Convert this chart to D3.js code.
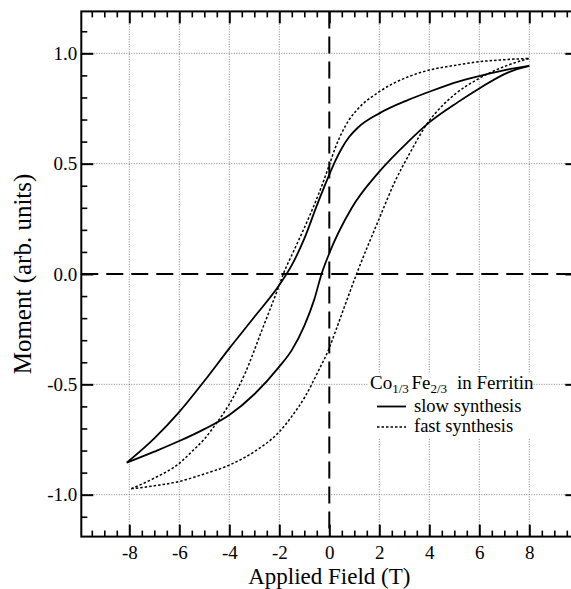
<!DOCTYPE html>
<meta charset="utf-8">
<head>
    <meta charset="UTF-8">
    <title>Co1/3 Fe2/3 in Ferritin - hysteresis</title>
    <style>
      body { margin: 0; background: #fff; }
      svg text { font-family: "Liberation Serif", "DejaVu Serif", serif; fill: #000; }
    </style>
</head>
<body>
<script src="https://d3js.org/d3.v7.min.js"></script>
<div id="chart"></div>
<script>

    // slow synthesis loop (solid): branch coming down from +8 T
    const slowUpField  = [-8.1, -7, -6, -5, -4, -3, -2, -1.5, -1, -0.5, 0, 0.25, 0.5, 0.8, 1.16, 2, 3.16, 4, 5.16, 6, 7.16, 8]
    const slowUpMoment = [-0.855, -0.745, -0.625, -0.485, -0.337, -0.195, -0.05, 0.04, 0.16, 0.31, 0.45, 0.515, 0.57, 0.622, 0.665, 0.728, 0.789, 0.826, 0.872, 0.897, 0.927, 0.943]
    // slow synthesis loop (solid): branch going up from -8 T
    const slowDownField  = [-8.1, -7, -6, -5, -4, -3, -2, -1.5, -1, -0.6, -0.31, 0, 0.89, 2, 3.16, 4, 5.16, 6, 7.16, 8]
    const slowDownMoment = [-0.855, -0.805, -0.757, -0.703, -0.639, -0.545, -0.42, -0.345, -0.235, -0.115, 0, 0.094, 0.298, 0.464, 0.6, 0.687, 0.78, 0.841, 0.914, 0.943]

    // fast synthesis loop (dotted)
    const fastUpField  = [-7.92, -7, -6, -5.5, -5, -4.54, -4, -3.35, -2.68, -2, -1.84, -1.4, -0.84, -0.4, 0, 0.25, 0.5, 0.8, 1.16, 2, 3.16, 4, 5, 6, 7, 8]
    const fastUpMoment = [-0.973, -0.925, -0.858, -0.805, -0.748, -0.68, -0.59, -0.445, -0.25, -0.05, 0, 0.11, 0.25, 0.37, 0.494, 0.575, 0.64, 0.70, 0.75, 0.826, 0.894, 0.924, 0.945, 0.962, 0.971, 0.977]
    const fastDownField  = [-7.92, -7, -6, -5, -4, -3, -2, -1.5, -0.97, -0.44, 0, 0.23, 0.6, 1.09, 2, 2.63, 3.16, 4, 4.5, 5.03, 6, 7.16, 8]
    const fastDownMoment = [-0.973, -0.96, -0.94, -0.906, -0.866, -0.805, -0.715, -0.645, -0.556, -0.44, -0.335, -0.265, -0.15, 0, 0.252, 0.42, 0.535, 0.695, 0.76, 0.815, 0.887, 0.947, 0.977]

    // tick labels
    const xTicks = [-8, -6, -4, -2, 0, 2, 4, 6, 8]
    const yTicks = [-1.0, -0.5, 0.0, 0.5, 1.0]
    const xMinor = d3.range(-9.5, 9.51, 0.5).filter(v => v % 2 !== 0)
    const yMinor = d3.range(-1.1, 1.101, 0.1).map(v => Math.round(v * 10) / 10).filter(v => !yTicks.includes(v))

    const W = 571, H = 589
    const FONT = '"Liberation Serif", "DejaVu Serif", serif'

    const svg = d3.select("#chart")
      .append("svg")
        .attr("width", W)
        .attr("height", H)
        .attr("font-family", FONT)

    svg.append("rect").attr("width", W).attr("height", H).attr("fill", "#fff")

    // scales
    const x = d3.scaleLinear().domain([-9.92, 9.92]).range([81.3, 577.3])
    const y = d3.scaleLinear().domain([-1.19, 1.19]).range([536.6, 11.4])
    const [x0, x1] = x.range(), [y0, y1] = y.range()

    // grid (dotted)
    const grid = svg.append("g")
    grid.selectAll(".gx")
      .data(xTicks.filter(d => d !== 0))
      .join("line")
        .attr("x1", d => x(d)).attr("x2", d => x(d))
        .attr("y1", y1).attr("y2", y0)
    grid.selectAll(".gy")
      .data(yTicks.filter(d => d !== 0))
      .join("line")
        .attr("y1", d => y(d)).attr("y2", d => y(d))
        .attr("x1", x0).attr("x2", x1)
    grid.selectAll("line")
        .attr("stroke", "#666")
        .attr("stroke-width", 0.8)
        .attr("stroke-dasharray", "1,1.5")

    // zero lines (long dashes)
    svg.append("line")
        .attr("x1", x0).attr("x2", x1)
        .attr("y1", y(0)).attr("y2", y(0))
        .attr("stroke", "#000").attr("stroke-width", 2)
        .attr("stroke-dasharray", "17,8")
    svg.append("line")
        .attr("x1", x(0)).attr("x2", x(0))
        .attr("y1", y1).attr("y2", y0)
        .attr("stroke", "#000").attr("stroke-width", 2)
        .attr("stroke-dasharray", "17,8")

    // curves
    const line = d3.line()
      .x(d => x(d[0]))
      .y(d => y(d[1]))
      .curve(d3.curveMonotoneX)

    const zip = (a, b) => a.map((v, i) => [v, b[i]])

    const branches = [
      {pts: zip(slowUpField, slowUpMoment), dash: null},
      {pts: zip(slowDownField, slowDownMoment), dash: null},
      {pts: zip(fastUpField, fastUpMoment), dash: "2.5,2"},
      {pts: zip(fastDownField, fastDownMoment), dash: "2.5,2"}
    ]

    svg.selectAll(".branch")
      .data(branches)
      .join("path")
        .attr("class", "branch")
        .attr("d", d => line(d.pts))
        .attr("fill", "none")
        .attr("stroke", "#000")
        .attr("stroke-width", d => d.dash ? 1.5 : 1.8)
        .attr("stroke-dasharray", d => d.dash)

    // axes (ticks point inward), hyphen minus like the original
    const fmtX = d => String(d)
    const fmtY = d => d3.format(".1f")(d).replace("\u2212", "-")

    function styleAxis(g) {
      g.attr("font-family", FONT)
      g.select(".domain").remove()
      g.selectAll(".tick line").attr("stroke", "#000")
      g.selectAll("text").style("font-size", "19px").attr("fill", "#000")
    }

    function addAxis(axis, tr, w, labels) {
      const g = svg.append("g")
        .attr("transform", tr)
        .call(axis)
        .call(styleAxis)
      g.selectAll(".tick line").attr("stroke-width", w)
      if (!labels) g.selectAll(".tick text").remove()
    }

    addAxis(d3.axisBottom(x).tickValues(xTicks).tickSize(-12).tickPadding(9).tickFormat(fmtX), `translate(0,${y0})`, 2, true)
    addAxis(d3.axisBottom(x).tickValues(xMinor).tickSize(-6), `translate(0,${y0})`, 1.6)
    addAxis(d3.axisTop(x).tickValues(xTicks).tickSize(-12), `translate(0,${y1})`, 2)
    addAxis(d3.axisTop(x).tickValues(xMinor).tickSize(-6), `translate(0,${y1})`, 1.6)
    addAxis(d3.axisLeft(y).tickValues(yTicks).tickSize(-12).tickPadding(4).tickFormat(fmtY), `translate(${x0},0)`, 2, true)
    addAxis(d3.axisLeft(y).tickValues(yMinor).tickSize(-6), `translate(${x0},0)`, 1.6)
    addAxis(d3.axisRight(y).tickValues(yTicks).tickSize(-12), `translate(${x1},0)`, 2)
    addAxis(d3.axisRight(y).tickValues(yMinor).tickSize(-6), `translate(${x1},0)`, 1.6)

    // frame
    svg.append("rect")
        .attr("x", x0).attr("y", y1)
        .attr("width", x1 - x0).attr("height", y0 - y1)
        .attr("fill", "none")
        .attr("stroke", "#000")
        .attr("stroke-width", 2)

    // axis titles
    svg.append("text")
        .attr("x", x(0))
        .attr("y", 584)
        .attr("text-anchor", "middle")
        .style("font-size", "23px")
        .text("Applied Field (T)")

    svg.append("text")
        .attr("transform", `translate(31,${y(0)}) rotate(-90)`)
        .attr("text-anchor", "middle")
        .style("font-size", "25px")
        .text("Moment (arb. units)")

    // legend
    const leg = svg.append("g")
    leg.append("rect")
        .attr("x", 368).attr("y", 373)
        .attr("width", 164).attr("height", 65)
        .attr("fill", "#fff")

    const title = leg.append("text")
        .attr("x", 370).attr("y", 389)
        .style("font-size", "19px")
    title.append("tspan").text("Co")
    title.append("tspan").attr("dy", 3.5).style("font-size", "13px").text("1/3")
    title.append("tspan").attr("x", 411.5).attr("dy", -3.5).text("Fe")
    title.append("tspan").attr("dy", 3.5).style("font-size", "13px").text("2/3")
    title.append("tspan").attr("x", 457).attr("dy", -3.5).text("in Ferritin")

    const legendItems = [
      {label: "slow synthesis", dash: null, y: 411.5},
      {label: "fast synthesis", dash: "2.5,2", y: 432}
    ]
    legendItems.forEach(d => {
      leg.append("line")
          .attr("x1", 377).attr("x2", 406)
          .attr("y1", d.y - 5).attr("y2", d.y - 5)
          .attr("stroke", "#000")
          .attr("stroke-width", d.dash ? 1.5 : 1.8)
          .attr("stroke-dasharray", d.dash)
      leg.append("text")
          .attr("x", 414).attr("y", d.y)
          .style("font-size", "18.5px")
          .text(d.label)
    })
    </script>
</body>
